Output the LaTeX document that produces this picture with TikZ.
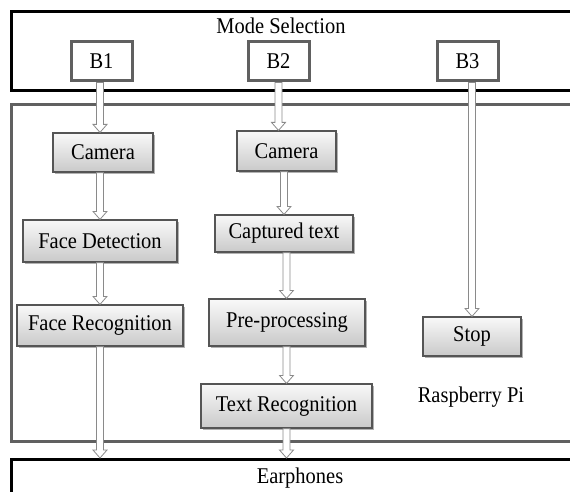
\documentclass[tikz,border=0pt]{standalone}
\usepackage{fontspec}
\setmainfont{Liberation Serif}[FakeStretch=0.91]
\usetikzlibrary{calc,shadows}
\definecolor{bord}{HTML}{606060}
\definecolor{boxline}{HTML}{555555}
\definecolor{arrline}{HTML}{8A8A8A}
\begin{document}
\begin{tikzpicture}[x=1pt,y=-1pt,
  every node/.style={font=\fontsize{22.5}{26}\selectfont, inner sep=0pt},
  bbox/.style={draw=bord, line width=3pt, fill=white, minimum width=61pt, minimum height=39pt},
  gbox/.style={draw=boxline, line width=1.2pt, top color=gray!5, bottom color=gray!42,
    drop shadow={shadow xshift=1.5pt, shadow yshift=-2pt, opacity=0.3, fill=black}, minimum height=40pt},
  frameblack/.style={draw=black, line width=3pt, anchor=north west, minimum width=620pt},
  framegray/.style={draw=bord, line width=3pt, anchor=north west, minimum width=620pt},
  arrowst/.style={draw=arrline, line width=0.8pt, fill=white},
  hollow/.style={to path={let \p1=(\tikztostart), \p2=(\tikztotarget) in
    (\x1-3.5pt,\y1) -- (\x1-3.5pt,\y2+8pt) -- (\x1-7pt,\y2+8pt) -- (\x1,\y2)
    -- (\x1+7pt,\y2+8pt) -- (\x1+3.5pt,\y2+8pt) -- (\x1+3.5pt,\y1) -- cycle}}
]
\useasboundingbox (0,0) rectangle (570,492);
\clip (0,0) rectangle (570,492);

% frames
\node[frameblack, minimum height=79pt] (modesel) at (10,10) {};
\node[framegray, minimum height=337pt] (rpi) at (10,103) {};
\node[frameblack, minimum height=60pt] (ear) at (10,458) {};
\node (mstext) at (281,26) {Mode Selection};
\node (rpitext) at (471,397) {Raspberry Pi};
\node (eartext) at (300,478) {Earphones};

% mode buttons
\node[bbox] (b1) at (101.5,61.5) {B1};
\node[bbox] (b2) at (278.5,61.5) {B2};
\node[bbox] (b3) at (467.5,61.5) {B3};

% process boxes
\node[gbox, minimum width=100pt, minimum height=39pt] (cam1) at (103,152.5) {Camera};
\node[gbox, minimum width=154pt, minimum height=42pt] (fd) at (100,241) {Face Detection};
\node[gbox, minimum width=166pt, minimum height=41pt] (fr) at (100,325.5) {Face Recognition};
\node[gbox, minimum width=99pt, minimum height=40pt] (cam2) at (286.5,151) {Camera};
\node[gbox, minimum width=138pt, minimum height=37pt] (cap) at (284,233.5) {Captured text};
\node[gbox, minimum width=156pt, minimum height=47pt] (pre) at (287,322.5) {Pre-processing};
\node[gbox, minimum width=171pt, minimum height=44pt] (tr) at (286.5,406) {Text Recognition};
\node[gbox, minimum width=98pt, minimum height=39pt] (stop) at (472,336.5) {Stop};

% connectors
\draw[arrowst] (b1.south -| fd.north) to[hollow] (cam1.north);
\draw[arrowst] (cam1.south -| fd.north) to[hollow] (fd.north);
\draw[arrowst] (fd.south) to[hollow] (fr.north);
\draw[arrowst] (fr.south) to[hollow] (ear.north);
\draw[arrowst] (b2.south) to[hollow] (cam2.north);
\draw[arrowst] (cam2.south -| cap.north) to[hollow] (cap.north);
\draw[arrowst] (cap.south -| tr.north) to[hollow] (pre.north);
\draw[arrowst] (pre.south -| tr.north) to[hollow] (tr.north);
\draw[arrowst] (tr.south) to[hollow] (ear.north);
\draw[arrowst] (b3.south -| stop.north) to[hollow] (stop.north);
\end{tikzpicture}
\end{document}
